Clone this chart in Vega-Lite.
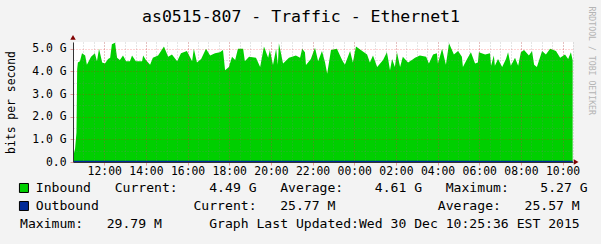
{
  "$schema": "https://vega.github.io/schema/vega-lite/v6.json",
  "background": "#f3f3f3",
  "padding": {"left": 5, "top": 6, "right": 6, "bottom": 12},
  "width": 500,
  "height": 120,
  "view": {"fill": "#ffffff", "stroke": null},
  "config": {"view": {"stroke": null}},
  "title": {"text": "as0515-807 - Traffic - Ethernet1", "anchor": "middle", "baseline": "alphabetic", "offset": -32, "dx": -22, "font": "DejaVu Sans Mono", "fontSize": 16.5, "fontWeight": "normal", "color": "#000000"},
  "datasets": {
    "inbound": [
      {"t":"2015-12-29T10:30Z","v":0.2},{"t":"2015-12-29T10:36Z","v":0.6},{"t":"2015-12-29T10:40Z","v":1.3},{"t":"2015-12-29T10:42Z","v":4.1},
      {"t":"2015-12-29T10:44Z","v":4.4},{"t":"2015-12-29T10:50Z","v":4.45},{"t":"2015-12-29T10:56Z","v":4.8},{"t":"2015-12-29T11:05Z","v":4.7},
      {"t":"2015-12-29T11:10Z","v":4.3},{"t":"2015-12-29T11:22Z","v":4.65},{"t":"2015-12-29T11:33Z","v":4.8},{"t":"2015-12-29T11:39Z","v":4.45},
      {"t":"2015-12-29T11:45Z","v":5.0},{"t":"2015-12-29T11:54Z","v":4.4},{"t":"2015-12-29T12:02Z","v":4.35},{"t":"2015-12-29T12:11Z","v":4.55},
      {"t":"2015-12-29T12:17Z","v":4.6},{"t":"2015-12-29T12:22Z","v":5.2},{"t":"2015-12-29T12:31Z","v":5.27},{"t":"2015-12-29T12:37Z","v":4.6},
      {"t":"2015-12-29T12:45Z","v":4.5},{"t":"2015-12-29T12:54Z","v":4.7},{"t":"2015-12-29T13:03Z","v":4.45},{"t":"2015-12-29T13:14Z","v":4.45},
      {"t":"2015-12-29T13:20Z","v":4.7},{"t":"2015-12-29T13:31Z","v":4.45},{"t":"2015-12-29T13:49Z","v":4.45},{"t":"2015-12-29T13:52Z","v":4.7},
      {"t":"2015-12-29T14:00Z","v":4.5},{"t":"2015-12-29T14:12Z","v":4.3},{"t":"2015-12-29T14:20Z","v":4.6},{"t":"2015-12-29T14:35Z","v":4.7},
      {"t":"2015-12-29T14:52Z","v":5.1},{"t":"2015-12-29T15:04Z","v":4.65},{"t":"2015-12-29T15:15Z","v":4.75},{"t":"2015-12-29T15:30Z","v":4.45},
      {"t":"2015-12-29T15:41Z","v":4.8},{"t":"2015-12-29T15:58Z","v":4.9},{"t":"2015-12-29T16:13Z","v":4.45},{"t":"2015-12-29T16:18Z","v":5.0},
      {"t":"2015-12-29T16:27Z","v":4.4},{"t":"2015-12-29T16:39Z","v":4.55},{"t":"2015-12-29T16:53Z","v":5.0},{"t":"2015-12-29T17:05Z","v":4.7},
      {"t":"2015-12-29T17:19Z","v":4.8},{"t":"2015-12-29T17:33Z","v":4.85},{"t":"2015-12-29T17:42Z","v":4.95},{"t":"2015-12-29T17:48Z","v":4.05},
      {"t":"2015-12-29T17:59Z","v":4.2},{"t":"2015-12-29T18:08Z","v":4.65},{"t":"2015-12-29T18:17Z","v":4.5},{"t":"2015-12-29T18:25Z","v":5.0},
      {"t":"2015-12-29T18:40Z","v":5.0},{"t":"2015-12-29T18:45Z","v":4.45},{"t":"2015-12-29T18:57Z","v":4.65},{"t":"2015-12-29T19:17Z","v":4.6},
      {"t":"2015-12-29T19:29Z","v":4.2},{"t":"2015-12-29T19:40Z","v":5.1},{"t":"2015-12-29T19:52Z","v":4.6},{"t":"2015-12-29T19:57Z","v":4.95},
      {"t":"2015-12-29T20:06Z","v":4.28},{"t":"2015-12-29T20:15Z","v":5.0},{"t":"2015-12-29T20:20Z","v":4.3},{"t":"2015-12-29T20:23Z","v":5.25},
      {"t":"2015-12-29T20:35Z","v":4.35},{"t":"2015-12-29T20:52Z","v":4.6},{"t":"2015-12-29T21:12Z","v":4.7},{"t":"2015-12-29T21:24Z","v":4.6},
      {"t":"2015-12-29T21:30Z","v":5.0},{"t":"2015-12-29T21:38Z","v":4.85},{"t":"2015-12-29T21:41Z","v":4.28},{"t":"2015-12-29T21:55Z","v":4.55},
      {"t":"2015-12-29T22:01Z","v":4.8},{"t":"2015-12-29T22:07Z","v":5.05},{"t":"2015-12-29T22:16Z","v":4.45},{"t":"2015-12-29T22:27Z","v":4.9},
      {"t":"2015-12-29T22:36Z","v":4.4},{"t":"2015-12-29T22:42Z","v":3.9},{"t":"2015-12-29T22:53Z","v":4.95},{"t":"2015-12-29T23:10Z","v":5.0},
      {"t":"2015-12-29T23:25Z","v":4.5},{"t":"2015-12-29T23:33Z","v":4.3},{"t":"2015-12-29T23:48Z","v":4.9},{"t":"2015-12-29T23:56Z","v":4.4},
      {"t":"2015-12-30T00:05Z","v":5.1},{"t":"2015-12-30T00:19Z","v":4.95},{"t":"2015-12-30T00:37Z","v":4.75},{"t":"2015-12-30T00:45Z","v":4.4},
      {"t":"2015-12-30T00:54Z","v":4.7},{"t":"2015-12-30T01:06Z","v":4.2},{"t":"2015-12-30T01:23Z","v":4.5},{"t":"2015-12-30T01:34Z","v":4.85},
      {"t":"2015-12-30T01:37Z","v":4.6},{"t":"2015-12-30T01:43Z","v":4.05},{"t":"2015-12-30T01:49Z","v":4.55},{"t":"2015-12-30T01:57Z","v":4.2},
      {"t":"2015-12-30T02:03Z","v":4.85},{"t":"2015-12-30T02:12Z","v":4.2},{"t":"2015-12-30T02:20Z","v":4.65},{"t":"2015-12-30T02:35Z","v":4.4},
      {"t":"2015-12-30T02:46Z","v":4.5},{"t":"2015-12-30T02:55Z","v":4.6},{"t":"2015-12-30T03:09Z","v":4.7},{"t":"2015-12-30T03:27Z","v":4.65},
      {"t":"2015-12-30T03:35Z","v":4.35},{"t":"2015-12-30T03:47Z","v":4.75},{"t":"2015-12-30T03:58Z","v":4.8},{"t":"2015-12-30T04:01Z","v":4.35},
      {"t":"2015-12-30T04:13Z","v":5.0},{"t":"2015-12-30T04:24Z","v":4.3},{"t":"2015-12-30T04:33Z","v":5.25},{"t":"2015-12-30T04:47Z","v":4.75},
      {"t":"2015-12-30T04:59Z","v":4.9},{"t":"2015-12-30T05:10Z","v":4.65},{"t":"2015-12-30T05:13Z","v":4.2},{"t":"2015-12-30T05:25Z","v":4.55},
      {"t":"2015-12-30T05:36Z","v":4.85},{"t":"2015-12-30T05:48Z","v":4.35},{"t":"2015-12-30T05:56Z","v":4.4},{"t":"2015-12-30T05:59Z","v":4.85},
      {"t":"2015-12-30T06:17Z","v":4.75},{"t":"2015-12-30T06:31Z","v":4.8},{"t":"2015-12-30T06:34Z","v":4.25},{"t":"2015-12-30T06:42Z","v":4.7},
      {"t":"2015-12-30T06:45Z","v":4.25},{"t":"2015-12-30T06:54Z","v":4.55},{"t":"2015-12-30T07:06Z","v":4.2},{"t":"2015-12-30T07:17Z","v":4.55},
      {"t":"2015-12-30T07:23Z","v":4.85},{"t":"2015-12-30T07:31Z","v":4.25},{"t":"2015-12-30T07:43Z","v":4.6},{"t":"2015-12-30T07:52Z","v":4.25},
      {"t":"2015-12-30T08:00Z","v":4.85},{"t":"2015-12-30T08:09Z","v":4.95},{"t":"2015-12-30T08:23Z","v":4.7},{"t":"2015-12-30T08:32Z","v":4.9},
      {"t":"2015-12-30T08:38Z","v":4.3},{"t":"2015-12-30T08:46Z","v":4.2},{"t":"2015-12-30T09:01Z","v":4.9},{"t":"2015-12-30T09:12Z","v":4.75},
      {"t":"2015-12-30T09:24Z","v":5.0},{"t":"2015-12-30T09:41Z","v":4.9},{"t":"2015-12-30T09:53Z","v":4.6},{"t":"2015-12-30T10:07Z","v":4.75},
      {"t":"2015-12-30T10:16Z","v":4.55},{"t":"2015-12-30T10:24Z","v":4.85},{"t":"2015-12-30T10:29Z","v":4.49}
    ],
    "outbound": [
      {"t":"2015-12-29T10:30Z","v":0.0252},{"t":"2015-12-29T12:30Z","v":0.0258},{"t":"2015-12-29T14:30Z","v":0.0261},
      {"t":"2015-12-29T16:30Z","v":0.0255},{"t":"2015-12-29T18:30Z","v":0.0298},{"t":"2015-12-29T20:30Z","v":0.0256},
      {"t":"2015-12-29T22:30Z","v":0.0249},{"t":"2015-12-30T00:30Z","v":0.0253},{"t":"2015-12-30T02:30Z","v":0.0255},
      {"t":"2015-12-30T04:30Z","v":0.0262},{"t":"2015-12-30T06:30Z","v":0.0257},{"t":"2015-12-30T08:30Z","v":0.0259},
      {"t":"2015-12-30T10:29Z","v":0.02577}
    ],
    "footer": [
      {"row":0,"col":2,"text":"Inbound\u00a0\u00a0\u00a0Current:\u00a0\u00a0\u00a0\u00a04.49\u00a0G\u00a0\u00a0\u00a0Average:\u00a0\u00a0\u00a0\u00a04.61\u00a0G\u00a0\u00a0\u00a0Maximum:\u00a0\u00a0\u00a0\u00a05.27\u00a0G"},
      {"row":1,"col":2,"text":"Outbound\u00a0\u00a0\u00a0\u00a0\u00a0\u00a0\u00a0\u00a0\u00a0\u00a0\u00a0\u00a0Current:\u00a0\u00a0\u00a025.77\u00a0M\u00a0\u00a0\u00a0\u00a0\u00a0\u00a0\u00a0\u00a0\u00a0\u00a0\u00a0\u00a0\u00a0Average:\u00a0\u00a0\u00a025.57\u00a0M"},
      {"row":2,"col":0,"text":"Maximum:\u00a0\u00a0\u00a029.79\u00a0M\u00a0\u00a0\u00a0\u00a0\u00a0\u00a0Graph\u00a0Last\u00a0Updated:Wed\u00a030\u00a0Dec\u00a010:25:36\u00a0EST\u00a02015"}
    ],
    "keys": [
      {"row":0,"col":0.5,"series":"Inbound"},
      {"row":1,"col":0.5,"series":"Outbound"}
    ]
  },
  "layer": [
    {
      "data": {"name": "inbound"},
      "mark": {"type": "area", "color": "#00cf00", "interpolate": "linear"},
      "encoding": {
        "x": {"field": "t", "type": "temporal",
          "scale": {"type": "utc", "nice": false, "domain": [1451385000000, 1451471400000]},
          "axis": {"orient": "bottom", "format": "%H:%M", "values": [1451390400000, 1451397600000, 1451404800000, 1451412000000, 1451419200000, 1451426400000, 1451433600000, 1451440800000, 1451448000000, 1451455200000, 1451462400000, 1451469600000], "labelFont": "DejaVu Sans Mono", "labelFontSize": 11.4, "labelColor": "#000000", "labelPadding": 0, "labelFlush": false, "labelOverlap": false, "tickSize": 3, "tickColor": "#e89a9a", "domain": true, "domainColor": "#333333", "grid": true, "gridColor": "#ff0000", "gridOpacity": 0.35, "gridDash": [1, 2], "title": null, "zindex": 1}},
        "y": {"field": "v", "type": "quantitative",
          "scale": {"domain": [0, 5.3], "nice": false, "zero": true},
          "axis": {"orient": "left", "values": [0, 1, 2, 3, 4, 5], "labelExpr": "datum.value == 0 ? '0.0' : format(datum.value, '.1f') + ' G'", "labelFont": "DejaVu Sans Mono", "labelFontSize": 11.4, "labelColor": "#000000", "labelPadding": 4, "tickSize": 3, "tickColor": "#e89a9a", "domain": true, "domainColor": "#333333", "grid": true, "gridColor": "#ff0000", "gridOpacity": 0.35, "gridDash": [1, 2], "title": "bits per second", "titleFont": "DejaVu Sans Mono", "titleFontSize": 11.4, "titleFontWeight": "normal", "titleColor": "#000000", "titleAngle": -90, "titleAlign": "center", "titleBaseline": "middle", "titleX": -62, "titleY": 60, "zindex": 1}}
      }
    },
    {
      "data": {"name": "outbound"},
      "mark": {"type": "line", "color": "#002a97", "strokeWidth": 1.2},
      "encoding": {
        "x": {"field": "t", "type": "temporal",
          "scale": {"type": "utc", "nice": false, "domain": [1451385000000, 1451471400000]},
          "axis": {"orient": "bottom", "tickCount": 48, "labels": false, "ticks": false, "domain": false, "grid": true, "gridColor": "#808080", "gridOpacity": 0.4, "gridDash": [1, 2], "title": null, "zindex": 1}},
        "y": {"field": "v", "type": "quantitative",
          "scale": {"domain": [0, 5.3], "nice": false, "zero": true},
          "axis": {"orient": "left", "values": [0.5, 1.5, 2.5, 3.5, 4.5], "labels": false, "ticks": false, "domain": false, "grid": true, "gridColor": "#808080", "gridOpacity": 0.4, "gridDash": [1, 2], "title": null, "zindex": 1}}
      }
    },
    {
      "data": {"values": [{}]},
      "mark": {"type": "point", "shape": "triangle-up", "filled": true, "color": "#800000", "size": 30, "opacity": 1},
      "encoding": {
        "x": {"datum": 1451385000000, "type": "temporal", "axis": null,
          "scale": {"type": "utc", "nice": false, "domain": [1451385000000, 1451471400000]}},
        "y": {"datum": 5.5, "type": "quantitative", "scale": {"domain": [0, 5.3], "nice": false, "zero": true},
          "axis": {"orient": "right", "labels": false, "ticks": false, "domain": false, "grid": false, "title": "RRDTOOL / TOBI OETIKER", "titleFont": "DejaVu Sans Mono", "titleFontSize": 8.2, "titleFontWeight": "normal", "titleColor": "#b4b4b4", "titleAngle": 90, "titleAlign": "left", "titleBaseline": "middle", "titleX": 17, "titleY": -36}}
      }
    },
    {
      "data": {"values": [{}]},
      "mark": {"type": "point", "shape": "triangle-right", "filled": true, "color": "#800000", "size": 30, "opacity": 1},
      "encoding": {
        "x": {"datum": 1451471940000, "type": "temporal", "axis": null,
          "scale": {"type": "utc", "nice": false, "domain": [1451385000000, 1451471400000]}},
        "y": {"datum": 0, "type": "quantitative", "axis": null, "scale": {"domain": [0, 5.3], "nice": false, "zero": true}}
      }
    },
    {
      "data": {"name": "footer"},
      "mark": {"type": "text", "align": "left", "baseline": "middle", "font": "DejaVu Sans Mono", "fontSize": 13.1, "color": "#000000"},
      "encoding": {
        "x": {"field": "col", "type": "quantitative", "axis": null, "scale": {"domain": [6.709, 70.0], "nice": false, "zero": false}},
        "y": {"field": "row", "type": "quantitative", "axis": null, "scale": {"domain": [-8.111, -1.444], "nice": false, "zero": false, "reverse": true}},
        "text": {"field": "text"}
      }
    },
    {
      "data": {"name": "keys"},
      "mark": {"type": "point", "shape": "square", "filled": true, "size": 81, "stroke": "#000000", "strokeWidth": 1, "opacity": 1},
      "encoding": {
        "x": {"field": "col", "type": "quantitative", "axis": null, "scale": {"domain": [6.709, 70.0], "nice": false, "zero": false}},
        "y": {"field": "row", "type": "quantitative", "axis": null, "scale": {"domain": [-8.111, -1.444], "nice": false, "zero": false, "reverse": true}},
        "color": {"field": "series", "type": "nominal", "scale": {"domain": ["Inbound", "Outbound"], "range": ["#00cf00", "#002a97"]}, "legend": null}
      }
    }
  ],
  "resolve": {"scale": {"x": "independent", "y": "independent"}, "axis": {"x": "independent", "y": "independent"}}
}
